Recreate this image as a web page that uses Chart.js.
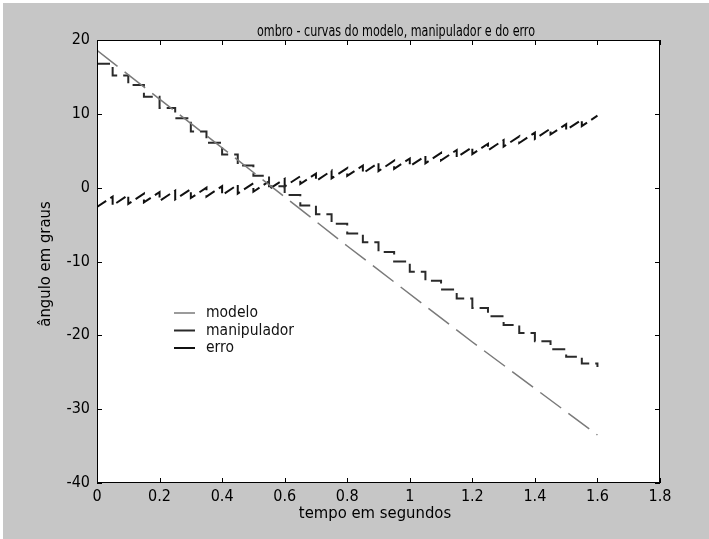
<!DOCTYPE html>
<html>
<head>
<meta charset="utf-8">
<script src="https://cdn.jsdelivr.net/npm/chart.js@4"></script>
<style>
  html, body { margin: 0; padding: 0; background: #fff; }
  #wrap { width: 709px; height: 539px; }
</style>
</head>
<body>
<div id="wrap"><canvas id="chart" width="709" height="539"></canvas></div>
<script>
// values
const xTickLabels = ['0', '0.2', '0.4', '0.6', '0.8', '1', '1.2', '1.4', '1.6', '1.8'];
const yTickLabels = ['-40', '-30', '-20', '-10', '0', '10', '20'];

const modeloT = [0, 0.4, 0.8, 1.2, 1.6];
const modeloY = [18.6, 5.4, -7.9, -20.9, -33.5];

const stepT = [0, 0.05, 0.1, 0.15, 0.2, 0.25, 0.3, 0.35, 0.4, 0.45, 0.5, 0.55, 0.6, 0.65, 0.7, 0.75,
  0.8, 0.85, 0.9, 0.95, 1.0, 1.05, 1.1, 1.15, 1.2, 1.25, 1.3, 1.35, 1.4, 1.45, 1.5, 1.55, 1.6];
const manipY = [16.8, 15.2, 13.9, 12.3, 10.8, 9.4, 7.6, 6.1, 4.5, 3.0, 1.6, 0.2, -1.0, -2.4, -3.6, -4.9,
  -6.2, -7.4, -8.7, -10.0, -11.4, -12.6, -13.8, -15.0, -16.3, -17.4, -18.6, -19.7, -20.8, -21.9, -22.9, -23.8, -24.3];

// erro: value at the start and end of each step interval
const erroLo = [-2.6, -2.4, -2.2, -2.0, -1.8, -1.6, -1.4, -1.2, -1.0, -0.8, -0.55, -0.2, 0.15, 0.5, 0.9, 1.25,
  1.6, 1.95, 2.25, 2.55, 2.9, 3.3, 3.7, 4.1, 4.55, 5.05, 5.55, 6.05, 6.6, 7.2, 7.8, 8.35];
const erroHi = [-1.2, -1.0, -0.8, -0.6, -0.4, -0.2, 0.0, 0.2, 0.4, 0.6, 0.85, 1.2, 1.55, 1.9, 2.3, 2.65,
  3.0, 3.35, 3.65, 3.95, 4.3, 4.7, 5.1, 5.5, 5.95, 6.45, 6.95, 7.45, 8.0, 8.6, 9.2, 9.75];

const labels = ['modelo', 'manipulador', 'erro'];
const colors = ['#7a7a7a', '#2a2a2a', '#111111'];

const FONT = "'Liberation Sans Narrow', 'DejaVu Sans Condensed', 'Liberation Sans', Arial, sans-serif";

const modeloData = modeloT.map((t, i) => ({ x: t, y: modeloY[i] }));
const manipData = stepT.map((t, i) => ({ x: t, y: manipY[i] }));
const erroData = [];
erroLo.forEach((lo, k) => {
  erroData.push({ x: stepT[k], y: lo });
  erroData.push({ x: stepT[k + 1], y: erroHi[k] });
});

// gray figure, white axes box, inward ticks, title, axis labels, legend
const matlabLook = {
  id: 'matlabLook',
  beforeDraw(chart) {
    const { ctx, chartArea: a } = chart;
    ctx.save();
    ctx.fillStyle = '#ffffff';
    ctx.fillRect(0, 0, chart.width, chart.height);
    ctx.fillStyle = '#c6c6c6';
    ctx.fillRect(3, 3, chart.width - 3, chart.height - 3);
    ctx.fillStyle = '#ffffff';
    ctx.fillRect(a.left, a.top, a.right - a.left, a.bottom - a.top);
    ctx.restore();
  },
  afterDraw(chart) {
    const { ctx, chartArea: a, scales } = chart;
    ctx.save();
    ctx.strokeStyle = '#000';
    ctx.lineWidth = 1;
    ctx.strokeRect(a.left + 0.5, a.top + 0.5, a.right - a.left - 1, a.bottom - a.top - 1);
    const len = 5;
    ctx.beginPath();
    scales.x.ticks.forEach(t => {
      const px = Math.round(scales.x.getPixelForValue(t.value)) + 0.5;
      ctx.moveTo(px, a.bottom); ctx.lineTo(px, a.bottom - len);
      ctx.moveTo(px, a.top); ctx.lineTo(px, a.top + len);
    });
    scales.y.ticks.forEach(t => {
      const py = Math.round(scales.y.getPixelForValue(t.value)) + 0.5;
      ctx.moveTo(a.left, py); ctx.lineTo(a.left + len, py);
      ctx.moveTo(a.right, py); ctx.lineTo(a.right - len, py);
    });
    ctx.stroke();

    ctx.fillStyle = '#000';
    ctx.textAlign = 'center';
    ctx.textBaseline = 'middle';
    // title: taller but narrow, squeezed to the reference width
    const title = 'ombro - curvas do modelo, manipulador e do erro';
    ctx.font = '15px ' + FONT;
    const sx = Math.min(1, 278 / ctx.measureText(title).width);
    ctx.save();
    ctx.translate(396, 32);
    ctx.scale(sx, 1);
    ctx.fillText(title, 0, 0);
    ctx.restore();

    ctx.font = '16.5px ' + FONT;
    ctx.fillText('tempo em segundos', 375, 514);
    ctx.save();
    ctx.translate(46, 264);
    ctx.rotate(-Math.PI / 2);
    ctx.fillText('ângulo em graus', 0, 0);
    ctx.restore();

    // legend
    ctx.textAlign = 'left';
    ctx.font = '15.5px ' + FONT;
    labels.forEach((lab, i) => {
      const y = 313 + i * 17.5;
      ctx.strokeStyle = colors[i];
      ctx.lineWidth = i === 0 ? 1.5 : 2;
      ctx.beginPath();
      ctx.moveTo(174, y); ctx.lineTo(195, y);
      ctx.stroke();
      ctx.fillStyle = '#111';
      ctx.fillText(lab, 206, y);
    });
    ctx.restore();
  }
};

new Chart(document.getElementById('chart').getContext('2d'), {
  type: 'line',
  data: {
    datasets: [
      {
        label: labels[0], data: modeloData, borderColor: colors[0], borderWidth: 1.5,
        borderDash: [26, 9], pointRadius: 0, fill: false, tension: 0
      },
      {
        label: labels[1], data: manipData, borderColor: colors[1], borderWidth: 2,
        borderDash: [13, 6], stepped: true, pointRadius: 0, fill: false
      },
      {
        label: labels[2], data: erroData, borderColor: colors[2], borderWidth: 2,
        borderDash: [11, 5], pointRadius: 0, fill: false, tension: 0
      }
    ]
  },
  options: {
    responsive: false,
    animation: false,
    events: [],
    layout: { padding: { left: 0, right: 49, top: 40, bottom: 0 } },
    plugins: { legend: { display: false }, title: { display: false }, tooltip: { enabled: false } },
    scales: {
      x: {
        type: 'linear', min: 0, max: 1.8,
        grid: { display: false, drawTicks: false },
        border: { display: false },
        afterFit: s => { s.height = 56; },
        ticks: {
          stepSize: 0.2, padding: 4, color: '#000', maxRotation: 0, autoSkip: false,
          font: { size: 16, family: FONT },
          callback: (v, i) => xTickLabels[i]
        }
      },
      y: {
        type: 'linear', min: -40, max: 20,
        grid: { display: false, drawTicks: false },
        border: { display: false },
        afterFit: s => { s.width = 97; },
        ticks: {
          stepSize: 10, padding: 7, color: '#000', autoSkip: false,
          font: { size: 16, family: FONT },
          callback: (v, i) => yTickLabels[i]
        }
      }
    }
  },
  plugins: [matlabLook]
});
</script>
</body>
</html>
